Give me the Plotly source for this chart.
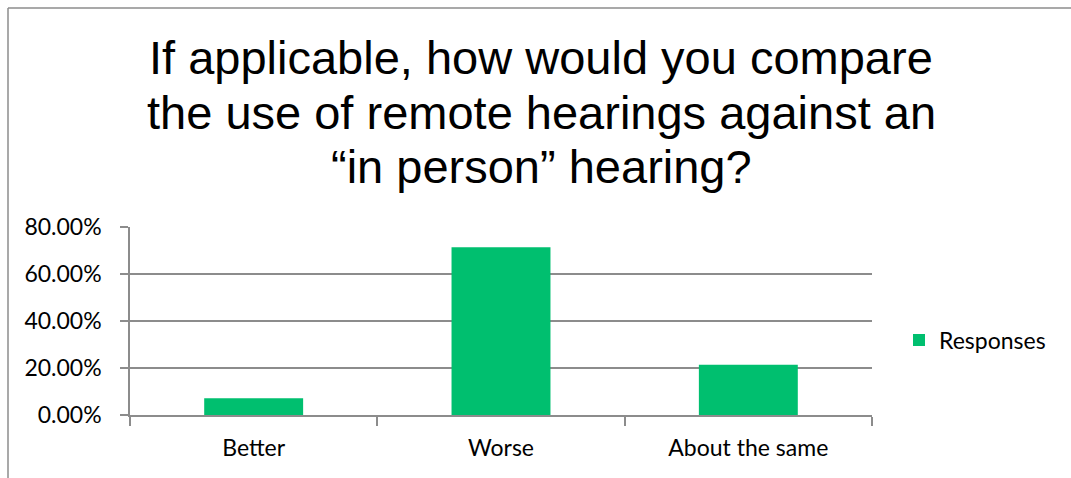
import plotly.graph_objects as go

# Survey responses (share of respondents)
categories = ["Better", "Worse", "About the same"]
responses = [0.0714, 0.7143, 0.2143]
series_name = "Responses"
y_ticks = [0.0, 0.2, 0.4, 0.6, 0.8]
title_lines = [
    "If applicable, how would you compare",
    "the use of remote hearings against an",
    "\u201cin person\u201d hearing?",
]

W, H = 1071, 478
L, R, T, B = 130, 872, 227, 415  # plot area in pixels
GREEN = "#00BF6F"
GRID = "#8C8C8C"
LABEL_FONT = "Lato"
LABEL_SIZE = 23


def px_x(x):
    return (x - L) / (R - L)


def px_y(y):
    return (B - y) / (B - T)


fig = go.Figure(
    go.Bar(
        x=categories,
        y=responses,
        name=series_name,
        marker=dict(color=GREEN, line=dict(width=0)),
        showlegend=True,
    )
)

fig.update_layout(
    width=W,
    height=H,
    margin=dict(l=L, r=W - R, t=T, b=H - B, pad=0),
    paper_bgcolor="white",
    plot_bgcolor="white",
    bargap=0.6,
    showlegend=True,
    legend=dict(
        x=px_x(899),
        xanchor="left",
        y=px_y(340),
        yanchor="middle",
        font=dict(family=LABEL_FONT, size=LABEL_SIZE, color="black"),
        bgcolor="rgba(0,0,0,0)",
        itemwidth=30,
    ),
    xaxis=dict(
        showline=True,
        linecolor=GRID,
        linewidth=1.5,
        ticks="outside",
        tickson="boundaries",
        ticklen=9,
        tickcolor=GRID,
        tickwidth=1.5,
        showgrid=False,
        tickfont=dict(family=LABEL_FONT, size=LABEL_SIZE, color="black"),
        ticklabelstandoff=12,
        fixedrange=True,
    ),
    yaxis=dict(
        range=[0, 0.8],
        tickvals=y_ticks,
        tickformat=".2%",
        showline=True,
        linecolor=GRID,
        linewidth=1.5,
        ticks="outside",
        ticklen=8,
        tickcolor=GRID,
        tickwidth=1.5,
        showgrid=True,
        gridcolor=GRID,
        gridwidth=1.5,
        zeroline=False,
        tickfont=dict(family=LABEL_FONT, size=LABEL_SIZE, color="black"),
        ticklabelstandoff=14,
        fixedrange=True,
    ),
)

# Three-line chart title, one annotation per line
for text, cy in zip(title_lines, [57, 112, 166]):
    fig.add_annotation(
        text=text, xref="paper", yref="paper",
        x=px_x(541), y=px_y(cy), xanchor="center", yanchor="middle",
        showarrow=False,
        font=dict(family="Liberation Sans, Arial", size=47, color="black"),
    )

# Outer chart border (top and left edges)
fig.add_shape(type="line", xref="paper", yref="paper",
              x0=px_x(8), x1=px_x(W + 5), y0=px_y(8), y1=px_y(8),
              line=dict(color=GRID, width=1.5))
fig.add_shape(type="line", xref="paper", yref="paper",
              x0=px_x(8), x1=px_x(8), y0=px_y(8), y1=px_y(H + 5),
              line=dict(color=GRID, width=1.5))

fig.write_html("out.html", config=dict(displayModeBar=False))
